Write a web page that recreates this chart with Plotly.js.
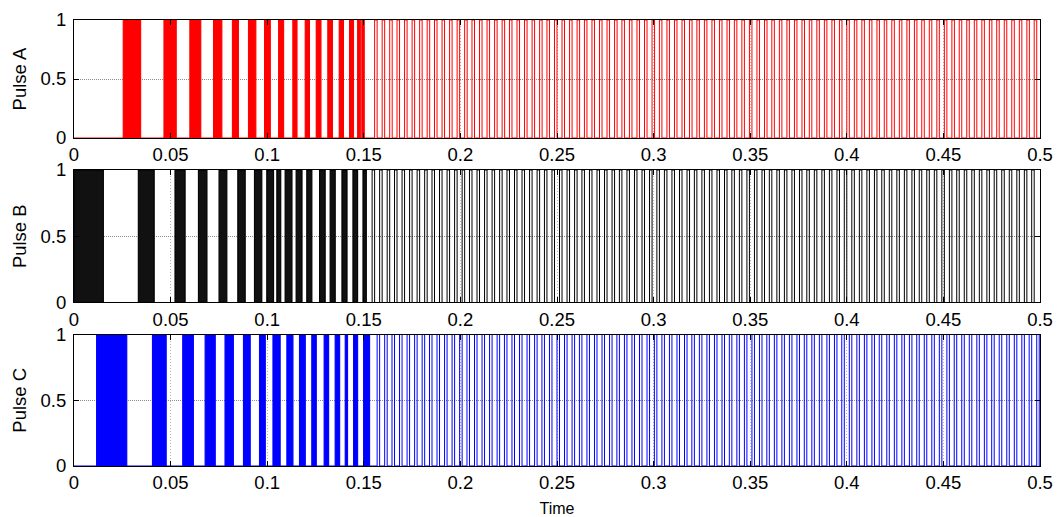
<!DOCTYPE html>
<html>
<head>
<meta charset="utf-8">
<script src="https://cdn.plot.ly/plotly-3.0.1.min.js"></script>
<style>
html,body{margin:0;padding:0;background:#fff;}
#chart{width:1057px;height:517px;}
</style>
</head>
<body>
<div id="chart"></div>
<script>
// ---- Data (times in seconds) ----
const tickVals = [0, 0.05, 0.1, 0.15, 0.2, 0.25, 0.3, 0.35, 0.4, 0.45, 0.5];
const tickText = ['0', '0.05', '0.1', '0.15', '0.2', '0.25', '0.3', '0.35', '0.4', '0.45', '0.5'];
const seriesNames = ['Pulse A', 'Pulse B', 'Pulse C'];

// dense pulse bursts during start-up (appear solid)
const burstA_start = [0.0255, 0.0466, 0.0600, 0.0722, 0.0820, 0.0903, 0.0986, 0.1059, 0.1133, 0.1197, 0.1254, 0.1314, 0.1373, 0.1426, 0.1468, 0.1490];
const burstA_end   = [0.0345, 0.0529, 0.0656, 0.0765, 0.0851, 0.0941, 0.1016, 0.1085, 0.1154, 0.1219, 0.1278, 0.1338, 0.1395, 0.1447, 0.1482, 0.1502];

const burstB_start = [0.0000, 0.0333, 0.0523, 0.0644, 0.0751, 0.0848, 0.0934, 0.0998, 0.1050, 0.1093, 0.1150, 0.1205, 0.1271, 0.1326, 0.1387, 0.1444, 0.1496];
const burstB_end   = [0.0152, 0.0415, 0.0575, 0.0688, 0.0791, 0.0886, 0.0972, 0.1033, 0.1070, 0.1128, 0.1180, 0.1231, 0.1300, 0.1352, 0.1413, 0.1468, 0.1513];

const burstC_start = [0.0117, 0.0406, 0.0563, 0.0679, 0.0782, 0.0877, 0.0960, 0.1030, 0.1102, 0.1167, 0.1231, 0.1295, 0.1352, 0.1404, 0.1447, 0.1499];
const burstC_end   = [0.0273, 0.0477, 0.0618, 0.0731, 0.0825, 0.0912, 0.0990, 0.1067, 0.1133, 0.1197, 0.1254, 0.1318, 0.1375, 0.1416, 0.1468, 0.1530];

// steady-state single pulses (rising-edge times)
const pulseA_on = [0.1556, 0.1595, 0.1634, 0.1672, 0.1711, 0.1750, 0.1789, 0.1828, 0.1866, 0.1905, 0.1944, 0.1983, 0.2022, 0.2060, 0.2099, 0.2138, 0.2177, 0.2216, 0.2254, 0.2293, 0.2332, 0.2371, 0.2410, 0.2448, 0.2487, 0.2526, 0.2565, 0.2604, 0.2642, 0.2681, 0.2720, 0.2759, 0.2798, 0.2836, 0.2875, 0.2914, 0.2953, 0.2992, 0.3030, 0.3069, 0.3108, 0.3147, 0.3186, 0.3224, 0.3263, 0.3302, 0.3341, 0.3380, 0.3418, 0.3457, 0.3496, 0.3535, 0.3574, 0.3612, 0.3651, 0.3690, 0.3729, 0.3768, 0.3806, 0.3845, 0.3884, 0.3923, 0.3962, 0.4000, 0.4039, 0.4078, 0.4117, 0.4156, 0.4194, 0.4233, 0.4272, 0.4311, 0.4350, 0.4388, 0.4427, 0.4466, 0.4505, 0.4544, 0.4582, 0.4621, 0.4660, 0.4699, 0.4738, 0.4776, 0.4815, 0.4854, 0.4893, 0.4932, 0.4970];
const pulseB_on = [0.1543, 0.1582, 0.1621, 0.1659, 0.1698, 0.1737, 0.1776, 0.1815, 0.1853, 0.1892, 0.1931, 0.1970, 0.2009, 0.2047, 0.2086, 0.2125, 0.2164, 0.2203, 0.2241, 0.2280, 0.2319, 0.2358, 0.2397, 0.2435, 0.2474, 0.2513, 0.2552, 0.2591, 0.2629, 0.2668, 0.2707, 0.2746, 0.2785, 0.2823, 0.2862, 0.2901, 0.2940, 0.2979, 0.3017, 0.3056, 0.3095, 0.3134, 0.3173, 0.3211, 0.3250, 0.3289, 0.3328, 0.3367, 0.3405, 0.3444, 0.3483, 0.3522, 0.3561, 0.3599, 0.3638, 0.3677, 0.3716, 0.3755, 0.3793, 0.3832, 0.3871, 0.3910, 0.3949, 0.3987, 0.4026, 0.4065, 0.4104, 0.4143, 0.4181, 0.4220, 0.4259, 0.4298, 0.4337, 0.4375, 0.4414, 0.4453, 0.4492, 0.4531, 0.4569, 0.4608, 0.4647, 0.4686, 0.4725, 0.4763, 0.4802, 0.4841, 0.4880, 0.4919, 0.4957];
const pulseC_on = [0.1569, 0.1608, 0.1646, 0.1685, 0.1724, 0.1763, 0.1802, 0.1840, 0.1879, 0.1918, 0.1957, 0.1996, 0.2034, 0.2073, 0.2112, 0.2151, 0.2190, 0.2228, 0.2267, 0.2306, 0.2345, 0.2384, 0.2422, 0.2461, 0.2500, 0.2539, 0.2578, 0.2616, 0.2655, 0.2694, 0.2733, 0.2772, 0.2810, 0.2849, 0.2888, 0.2927, 0.2966, 0.3004, 0.3043, 0.3082, 0.3121, 0.3160, 0.3198, 0.3237, 0.3276, 0.3315, 0.3354, 0.3392, 0.3431, 0.3470, 0.3509, 0.3548, 0.3586, 0.3625, 0.3664, 0.3703, 0.3742, 0.3780, 0.3819, 0.3858, 0.3897, 0.3936, 0.3974, 0.4013, 0.4052, 0.4091, 0.4130, 0.4168, 0.4207, 0.4246, 0.4285, 0.4324, 0.4362, 0.4401, 0.4440, 0.4479, 0.4518, 0.4556, 0.4595, 0.4634, 0.4673, 0.4712, 0.4750, 0.4789, 0.4828, 0.4867, 0.4906, 0.4944, 0.4983];
const pulseWidth = [0.0013, 0.0013, 0.0013]; // A, B, C

const tEnd = 0.5;

// ---- Build traces ----
function stepTrace(bs, be, on, w, color, xa, ya) {
  const x = [0], y = [0];
  for (let i = 0; i < bs.length; i++) {
    x.push(bs[i], bs[i], be[i], be[i]); y.push(0, 1, 1, 0);
  }
  for (let i = 0; i < on.length; i++) {
    x.push(on[i], on[i], on[i] + w, on[i] + w); y.push(0, 1, 1, 0);
  }
  x.push(tEnd); y.push(0);
  return {x, y, xaxis: xa, yaxis: ya, type: 'scatter', mode: 'lines',
    line: {color, width: 1}, hoverinfo: 'skip', showlegend: false};
}
function burstFill(bs, be, color, xa, ya) {
  const x = [], y = [];
  for (let i = 0; i < bs.length; i++) {
    x.push(bs[i], bs[i], be[i], be[i], bs[i], null);
    y.push(0, 1, 1, 0, 0, null);
  }
  return {x, y, xaxis: xa, yaxis: ya, type: 'scatter', mode: 'lines', fill: 'toself',
    fillcolor: color, line: {color, width: 0.5}, hoverinfo: 'skip', showlegend: false};
}

const traces = [
  burstFill(burstA_start, burstA_end, '#ff0000', 'x', 'y'),
  stepTrace(burstA_start, burstA_end, pulseA_on, pulseWidth[0], '#ff0000', 'x', 'y'),
  burstFill(burstB_start, burstB_end, '#111111', 'x2', 'y2'),
  stepTrace(burstB_start, burstB_end, pulseB_on, pulseWidth[1], '#000000', 'x2', 'y2'),
  burstFill(burstC_start, burstC_end, '#0000ff', 'x3', 'y3'),
  stepTrace(burstC_start, burstC_end, pulseC_on, pulseWidth[2], '#0000ff', 'x3', 'y3')
];

const FONT = 'Liberation Sans, Arial, sans-serif';
function xAxis(anchor, withTitle) {
  const a = {
    anchor, range: [0, 0.5], tickmode: 'array', tickvals: tickVals, ticktext: tickText,
    ticks: 'inside', ticklen: 5, tickcolor: '#000', tickwidth: 1,
    showline: true, linecolor: '#000', linewidth: 1, mirror: 'ticks',
    showgrid: true, gridcolor: '#b4b4b4', griddash: '1px,2px', gridwidth: 1,
    zeroline: false, tickfont: {family: FONT, size: 18.5, color: '#000'},
    automargin: false, fixedrange: true
  };
  if (withTitle) a.title = {text: 'Time', font: {family: FONT, size: 16, color: '#000'}, standoff: 10};
  return a;
}
function yAxis(anchor, domain, title) {
  return {
    anchor, domain, range: [0, 1], tickmode: 'array', tickvals: [0, 0.5, 1],
    ticks: 'inside', ticklen: 5, tickcolor: '#000', tickwidth: 1,
    showline: true, linecolor: '#000', linewidth: 1, mirror: 'ticks',
    showgrid: true, gridcolor: '#8c8c8c', griddash: '1px,1px', gridwidth: 1,
    zeroline: false, tickfont: {family: FONT, size: 18.5, color: '#000'},
    ticklabelstandoff: 3,
    title: {text: title, font: {family: FONT, size: 18.5, color: '#000'}, standoff: 9},
    automargin: false, fixedrange: true
  };
}

const layout = {
  width: 1057, height: 517,
  paper_bgcolor: '#ffffff', plot_bgcolor: '#ffffff',
  margin: {l: 74, r: 17, t: 20, b: 51},
  showlegend: false,
  xaxis: xAxis('y', false),
  yaxis: yAxis('x', [0.7354, 1], seriesNames[0]),
  xaxis2: xAxis('y2', false),
  yaxis2: yAxis('x2', [0.3666, 0.6637], seriesNames[1]),
  xaxis3: xAxis('y3', true),
  yaxis3: yAxis('x3', [0, 0.2948], seriesNames[2])
};

Plotly.newPlot('chart', traces, layout, {staticPlot: true, displayModeBar: false});
</script>
</body>
</html>
